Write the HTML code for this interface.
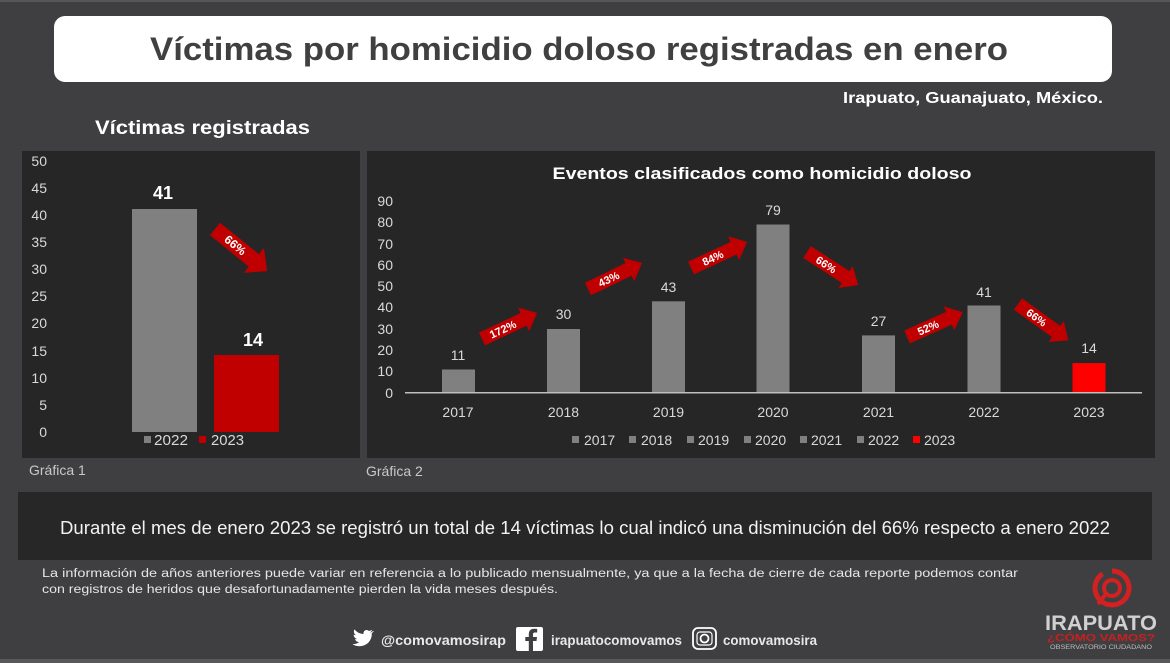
<!DOCTYPE html>
<html><head><meta charset="utf-8"><style>
html,body{margin:0;padding:0;background:#3f3f41;}
svg{display:block;}
text{font-family:"Liberation Sans",sans-serif;}
</style></head><body>
<svg width="1170" height="663" viewBox="0 0 1170 663" xmlns="http://www.w3.org/2000/svg">
<rect x="0" y="0" width="1170" height="663" fill="#3f3f41"/>
<rect x="0" y="0" width="1170" height="2" fill="#565658"/>
<rect x="0" y="659" width="1170" height="4" fill="#58585a"/>

<!-- Title box -->
<rect x="54" y="16" width="1058" height="66" rx="11" fill="#ffffff"/>
<text x="150" y="60" font-size="32" font-weight="bold" fill="#404040" textLength="858" lengthAdjust="spacingAndGlyphs">Víctimas por homicidio doloso registradas en enero</text>
<text x="1103" y="103" font-size="16" font-weight="bold" fill="#ffffff" text-anchor="end" textLength="260" lengthAdjust="spacingAndGlyphs">Irapuato, Guanajuato, México.</text>
<text x="95" y="134" font-size="19" font-weight="bold" fill="#ffffff" textLength="215" lengthAdjust="spacingAndGlyphs">Víctimas registradas</text>

<!-- Left panel -->
<rect x="22" y="151" width="338" height="307" fill="#262626"/>
<g font-size="14" fill="#d9d9d9" text-anchor="end">
<text x="47" y="166">50</text>
<text x="47" y="193">45</text>
<text x="47" y="220">40</text>
<text x="47" y="247">35</text>
<text x="47" y="274">30</text>
<text x="47" y="301">25</text>
<text x="47" y="328">20</text>
<text x="47" y="356">15</text>
<text x="47" y="383">10</text>
<text x="47" y="410">5</text>
<text x="47" y="437">0</text>
</g>
<rect x="132" y="209" width="65" height="223" fill="#808080"/>
<rect x="214" y="355" width="65" height="77" fill="#c00000"/>
<text x="163" y="199" font-size="18" font-weight="bold" fill="#ffffff" text-anchor="middle">41</text>
<text x="253" y="346" font-size="18" font-weight="bold" fill="#ffffff" text-anchor="middle">14</text>
<rect x="144" y="436" width="7" height="7" fill="#808080"/>
<text x="154" y="445" font-size="15" fill="#d9d9d9" textLength="34" lengthAdjust="spacingAndGlyphs">2022</text>
<rect x="199" y="436" width="7" height="7" fill="#c00000"/>
<text x="211" y="445" font-size="15" fill="#d9d9d9" textLength="33" lengthAdjust="spacingAndGlyphs">2023</text>
<g transform="translate(215,229) rotate(38.9)">
<polygon points="0,-8 50,-8 50,-16 67,0 50,16 50,8 0,8" fill="#c00000"/>
<text x="26" y="4" font-size="12" font-weight="bold" fill="#ffffff" text-anchor="middle">66%</text>
</g>
<text x="29" y="475" font-size="14" fill="#c8c8c8">Gráfica 1</text>

<!-- Right panel -->
<rect x="367" y="151" width="788" height="307" fill="#262626"/>
<text x="762" y="179" font-size="17" font-weight="bold" fill="#ffffff" text-anchor="middle" textLength="419" lengthAdjust="spacingAndGlyphs">Eventos clasificados como homicidio doloso</text>
<g font-size="14" fill="#d9d9d9" text-anchor="end">
<text x="393" y="206">90</text>
<text x="393" y="227">80</text>
<text x="393" y="249">70</text>
<text x="393" y="270">60</text>
<text x="393" y="291">50</text>
<text x="393" y="312">40</text>
<text x="393" y="334">30</text>
<text x="393" y="355">20</text>
<text x="393" y="376">10</text>
<text x="393" y="398">0</text>
</g>
<rect x="442" y="369.5" width="33" height="23.5" fill="#808080"/>
<rect x="547" y="329" width="33" height="64" fill="#808080"/>
<rect x="652" y="301.3" width="33" height="91.7" fill="#808080"/>
<rect x="756.5" y="224.5" width="33" height="168.5" fill="#808080"/>
<rect x="862" y="335.4" width="33" height="57.6" fill="#808080"/>
<rect x="967.5" y="305.5" width="33" height="87.5" fill="#808080"/>
<rect x="1072.5" y="363.1" width="33" height="29.9" fill="#ff0000"/>
<rect x="405" y="392" width="737" height="1.5" fill="#bfbfbf"/>
<g font-size="14" fill="#d9d9d9" text-anchor="middle">
<text x="458" y="360">11</text>
<text x="563.5" y="319">30</text>
<text x="668.5" y="292">43</text>
<text x="773" y="215">79</text>
<text x="878.5" y="326">27</text>
<text x="984" y="297">41</text>
<text x="1089" y="353">14</text>
<text x="458" y="417">2017</text>
<text x="563.5" y="417">2018</text>
<text x="668.5" y="417">2019</text>
<text x="773" y="417">2020</text>
<text x="878.5" y="417">2021</text>
<text x="984" y="417">2022</text>
<text x="1089" y="417">2023</text>
</g>
<g font-size="14" fill="#d9d9d9">
<rect x="572" y="436" width="7" height="7" fill="#808080"/><text x="584" y="445">2017</text>
<rect x="629" y="436" width="7" height="7" fill="#808080"/><text x="641" y="445">2018</text>
<rect x="687" y="436" width="7" height="7" fill="#808080"/><text x="698" y="445">2019</text>
<rect x="744" y="436" width="7" height="7" fill="#808080"/><text x="755" y="445">2020</text>
<rect x="800" y="436" width="7" height="7" fill="#808080"/><text x="811" y="445">2021</text>
<rect x="857" y="436" width="7" height="7" fill="#808080"/><text x="868" y="445">2022</text>
<rect x="913" y="436" width="7" height="7" fill="#ff0000"/><text x="924" y="445">2023</text>
</g>
<g fill="#c00000">
<g transform="translate(482,339) rotate(-25.3)">
<polygon points="0,-7 46,-7 46,-13 61,0 46,13 46,7 0,7"/>
<text x="23" y="4" font-size="11" font-weight="bold" fill="#ffffff" text-anchor="middle">172%</text>
</g>
<g transform="translate(588,289) rotate(-25.7)">
<polygon points="0,-7 45,-7 45,-13 60,0 45,13 45,7 0,7"/>
<text x="23" y="4" font-size="11" font-weight="bold" fill="#ffffff" text-anchor="middle">43%</text>
</g>
<g transform="translate(691,268) rotate(-24.9)">
<polygon points="0,-7 47,-7 47,-13 62,0 47,13 47,7 0,7"/>
<text x="24" y="4" font-size="11" font-weight="bold" fill="#ffffff" text-anchor="middle">84%</text>
</g>
<g transform="translate(807,252) rotate(32.9)">
<polygon points="0,-7 46,-7 46,-13 61,0 46,13 46,7 0,7"/>
<text x="23" y="4" font-size="11" font-weight="bold" fill="#ffffff" text-anchor="middle">66%</text>
</g>
<g transform="translate(907,337) rotate(-24)">
<polygon points="0,-7 46,-7 46,-13 61,0 46,13 46,7 0,7"/>
<text x="23" y="4" font-size="11" font-weight="bold" fill="#ffffff" text-anchor="middle">52%</text>
</g>
<g transform="translate(1018,304) rotate(35.8)">
<polygon points="0,-7 47,-7 47,-13 62,0 47,13 47,7 0,7"/>
<text x="23" y="4" font-size="11" font-weight="bold" fill="#ffffff" text-anchor="middle">66%</text>
</g>
</g>
<text x="366" y="476" font-size="14" fill="#c8c8c8">Gráfica 2</text>

<!-- Bottom summary box -->
<rect x="18" y="492" width="1134" height="68" fill="#272727"/>
<text x="60" y="534" font-size="18" fill="#f2f2f2" textLength="1050" lengthAdjust="spacingAndGlyphs">Durante el mes de enero 2023 se registró un total de 14 víctimas lo cual indicó una disminución del 66% respecto a enero 2022</text>

<text x="42" y="577" font-size="11.5" fill="#e6e6e6" textLength="976" lengthAdjust="spacingAndGlyphs">La información de años anteriores puede variar en referencia a lo publicado mensualmente, ya que a la fecha de cierre de cada reporte podemos contar</text>
<text x="42" y="593" font-size="11.5" fill="#e6e6e6" textLength="516" lengthAdjust="spacingAndGlyphs">con registros  de heridos que desafortunadamente pierden la vida meses después.</text>

<!-- Social row -->
<path d="M373,631 c-1,1 -2,1.5 -3,1.6 c1,-0.8 1.8,-1.6 2.2,-2.8 c-1,0.6 -2,1 -3.2,1.2 c-2,-2.2 -6,-0.8 -5.5,3 c-4,-0.2 -7,-2 -9,-4.6 c-1.2,2 -0.4,4.6 1.4,5.8 c-0.8,0 -1.6,-0.3 -2.2,-0.6 c0,2.2 1.4,3.8 3.4,4.4 c-0.7,0.2 -1.4,0.2 -2.1,0.1 c0.6,1.8 2.2,3 4.2,3 c-2,1.6 -4.4,2.2 -6.8,2 c8.6,5.4 19.8,0 19.4,-11 c1,-0.7 1.6,-1.4 2.2,-2.1z" fill="#ffffff"/>
<text x="381" y="645" font-size="13.5" font-weight="bold" fill="#e8e8e8" textLength="125" lengthAdjust="spacingAndGlyphs">@comovamosirap</text>
<rect x="516" y="627" width="27" height="24" rx="2" fill="#ffffff"/>
<path d="M533,651 v-10 h3.5 l0.5,-4 h-4 v-2.5 c0,-1.2 0.4,-2 2,-2 h2.2 v-3.6 c-0.4,0 -1.7,-0.2 -3.2,-0.2 c-3.2,0 -5.2,2 -5.2,5.4 v2.9 h-3.5 v4 h3.5 v10z" fill="#3f3f41"/>
<text x="551" y="645" font-size="13.5" font-weight="bold" fill="#e8e8e8" textLength="131" lengthAdjust="spacingAndGlyphs">irapuatocomovamos</text>
<rect x="693" y="628" width="23" height="21" rx="5" fill="none" stroke="#ffffff" stroke-width="1.8"/>
<rect x="697" y="632" width="15" height="13" rx="3" fill="none" stroke="#ffffff" stroke-width="1.2"/>
<circle cx="704.5" cy="638.5" r="4" fill="none" stroke="#ffffff" stroke-width="1.8"/>
<text x="723" y="645" font-size="13.5" font-weight="bold" fill="#e8e8e8" textLength="94" lengthAdjust="spacingAndGlyphs">comovamosira</text>

<!-- Logo -->
<circle cx="1112" cy="588" r="17" fill="none" stroke="#d32020" stroke-width="5" stroke-dasharray="70 10"/>
<circle cx="1112" cy="588" r="8" fill="none" stroke="#d32020" stroke-width="4"/>
<line x1="1106" y1="594" x2="1098" y2="604" stroke="#d32020" stroke-width="4"/>
<text x="1101" y="630" font-size="21" font-weight="bold" fill="#d0d0d0" text-anchor="middle" textLength="112" lengthAdjust="spacingAndGlyphs">IRAPUATO</text>
<text x="1101" y="641" font-size="10" font-weight="bold" fill="#c82020" text-anchor="middle" textLength="108" lengthAdjust="spacingAndGlyphs">¿CÓMO VAMOS?</text>
<text x="1101" y="649" font-size="6" fill="#bdbdbd" text-anchor="middle" textLength="102" lengthAdjust="spacingAndGlyphs">OBSERVATORIO CIUDADANO</text>
</svg>
</body></html>
